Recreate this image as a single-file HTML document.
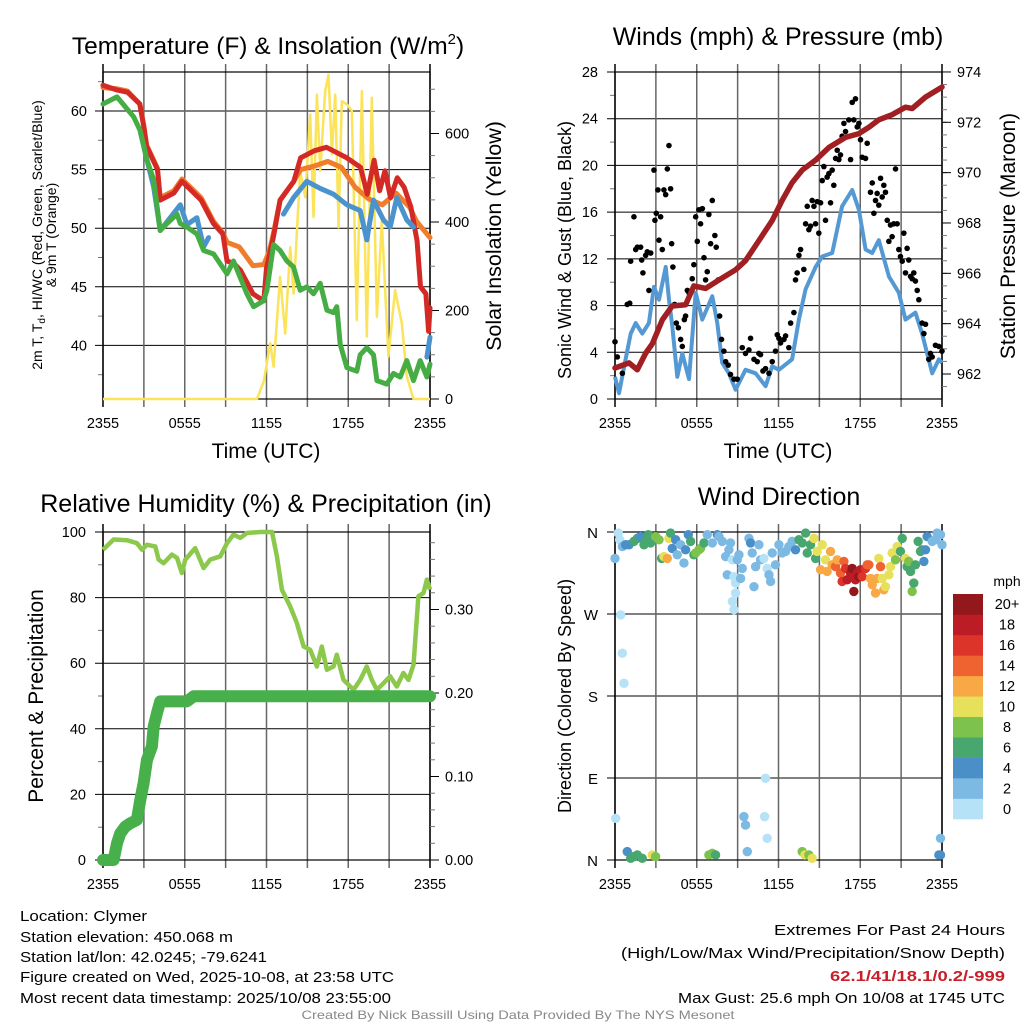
<!DOCTYPE html>
<html><head><meta charset="utf-8"><style>
html,body{margin:0;padding:0;background:#fff;}
svg{display:block;font-family:"Liberation Sans",Arial,sans-serif;}
</style></head><body>
<svg id="fig" width="1024" height="1024" viewBox="0 0 1024 1024" xmlns="http://www.w3.org/2000/svg">
<g id="p1"></g>
<g id="p2"></g>
<g id="p3"></g>
<g id="p4"></g>
<g id="txt">
<text x="268" y="54" font-size="24.5" text-anchor="middle">Temperature (F) &amp; Insolation (W/m<tspan font-size="15" dy="-10">2</tspan><tspan dy="10">)</tspan></text>
<text x="778" y="45" font-size="25" text-anchor="middle">Winds (mph) &amp; Pressure (mb)</text>
<text x="266" y="512" font-size="25" text-anchor="middle">Relative Humidity (%) &amp; Precipitation (in)</text>
<text x="779" y="505" font-size="25" text-anchor="middle">Wind Direction</text>
<text x="266" y="458" font-size="21" text-anchor="middle">Time (UTC)</text>
<text x="778" y="458" font-size="21" text-anchor="middle">Time (UTC)</text>
<text transform="translate(42,235) rotate(-90)" font-size="14" text-anchor="middle">2m T, T<tspan font-size="10" dy="3">d</tspan><tspan dy="-3">, HI/WC (Red, Green, Scarlet/Blue)</tspan></text>
<text transform="translate(56,235) rotate(-90)" font-size="14" text-anchor="middle">&amp; 9m T (Orange)</text>
<text transform="translate(501,236) rotate(-90)" font-size="21.5" text-anchor="middle">Solar Insolation (Yellow)</text>
<text transform="translate(571,250) rotate(-90)" font-size="18" text-anchor="middle">Sonic Wind &amp; Gust (Blue, Black)</text>
<text transform="translate(1015,236) rotate(-90)" font-size="21" text-anchor="middle">Station Pressure (Maroon)</text>
<text transform="translate(43,696) rotate(-90)" font-size="21" text-anchor="middle">Percent &amp; Precipitation</text>
<text transform="translate(571,696) rotate(-90)" font-size="18" text-anchor="middle">Direction (Colored By Speed)</text>
<text x="20" y="921" font-size="15" textLength="127" lengthAdjust="spacingAndGlyphs">Location: Clymer</text>
<text x="20" y="942" font-size="15" textLength="213" lengthAdjust="spacingAndGlyphs">Station elevation: 450.068 m</text>
<text x="20" y="962" font-size="15" textLength="247" lengthAdjust="spacingAndGlyphs">Station lat/lon: 42.0245; -79.6241</text>
<text x="20" y="982" font-size="15" textLength="374" lengthAdjust="spacingAndGlyphs">Figure created on Wed, 2025-10-08, at 23:58 UTC</text>
<text x="20" y="1003" font-size="15" textLength="371" lengthAdjust="spacingAndGlyphs">Most recent data timestamp: 2025/10/08 23:55:00</text>
<text x="1005" y="935" font-size="15" text-anchor="end" textLength="231" lengthAdjust="spacingAndGlyphs">Extremes For Past 24 Hours</text>
<text x="1005" y="958" font-size="15" text-anchor="end" textLength="384" lengthAdjust="spacingAndGlyphs">(High/Low/Max Wind/Precipitation/Snow Depth)</text>
<text x="1005" y="981" font-size="15" font-weight="bold" fill="#c8202a" text-anchor="end" textLength="175" lengthAdjust="spacingAndGlyphs">62.1/41/18.1/0.2/-999</text>
<text x="1005" y="1003" font-size="15" text-anchor="end" textLength="327" lengthAdjust="spacingAndGlyphs">Max Gust: 25.6 mph On 10/08 at 1745 UTC</text>
<text x="518" y="1019" font-size="12" fill="#888" text-anchor="middle" textLength="433" lengthAdjust="spacingAndGlyphs">Created By Nick Bassill Using Data Provided By The NYS Mesonet</text>
</g>
</svg>
<script>
// ---------- data ----------
const xTickLabels = ["2355","0555","1155","1755","2355"];
const tempTicks = [40,45,50,55,60];
const solarTicks = [0,200,400,600];
const windTicks = [0,4,8,12,16,20,24,28];
const presTicks = [962,964,966,968,970,972,974];
const rhTicks = [0,20,40,60,80,100];
const precipTicks = [0.00,0.10,0.20,0.30];
const dirTicks = ["N","E","S","W","N"];
const speedBins = ["0","2","4","6","8","10","12","14","16","18","20+"];
const speedColors = ["#b5e2f7","#7cb9e3","#4a8fc7","#48a66f","#7cc24c","#e6e05a","#f8a945","#ee6330","#dc3429","#bc1c25","#92181b"];

const tempRed = [[0,62.2],[1,61.8],[1.8,61.6],[2.7,60.6],[3,58.6],[3.2,57],[4,55],[4.2,52.4],[5.2,53],[5.8,54],[7.2,52.4],[8.1,50.4],[8.8,49.5],[9.1,47.2],[9.6,47],[10.1,46.4],[11,44.4],[11.8,43.8],[12,46.6],[12.5,49.2],[13,52.4],[14,54],[14.5,56],[15.5,56.6],[16.4,56.9],[16.9,56.6],[17.9,56],[18.9,55.2],[19.4,52.9],[19.9,55.8],[20.3,53.2],[20.7,54.9],[21.1,52.6],[21.6,54.3],[22.1,53.5],[22.6,51.8],[23.05,48.9],[23.3,45],[23.7,44.4],[23.9,41.2],[24,43.2]];
const tempOrange = [[0,62],[1,61.9],[1.8,61.7],[2.7,60.6],[3,58.7],[3.2,57.1],[4,55.1],[4.2,52.6],[5.2,53.2],[5.8,54.2],[7.2,52.6],[8.1,50.6],[8.8,49.6],[9.1,48.8],[10,48.4],[11,46.8],[11.8,46.9],[12.2,48],[12.5,49.5],[13,52.4],[14,54],[14.5,55],[15.5,55.3],[16.5,55.7],[17.5,55.2],[18.5,53.5],[19.5,52.5],[20.5,52],[21.5,53],[22.5,51.8],[23,50.6],[24,49.2]];
const tempBlue = [[2.74,58.2],[3.23,55.8],[3.72,53.5],[4.2,49.8],[5.67,52],[6.16,50.3],[6.89,50.9],[7.38,48.4],[7.75,49.2],null,[11.8,43],null,[13.25,51.2],[13.98,52.6],[14.96,54],[15.94,53.4],[16.92,52.9],[17.9,52],[18.88,51.5],[19.36,49],[19.85,52.4],[20.59,50.7],[21.08,50.1],[21.56,52.6],[22.3,50.7],[22.79,50.1],null,[23.77,39],[24,40.7]];
const tempGreen = [[0,60.6],[1.03,61.2],[2.25,59.5],[2.74,58.3],[3.23,55.8],[3.72,54.1],[4.2,49.8],[4.7,50.4],[5.43,51.2],[5.67,50.4],[6.16,50.1],[6.9,49.5],[7.38,48.1],[8.12,47.8],[9.1,46.1],[9.58,47.2],[10.07,45.8],[10.56,44.4],[11.05,43.3],[11.78,43.8],[12.03,44.7],[12.52,48.6],[13,48.1],[13.5,47.2],[13.98,46.7],[14.47,44.7],[14.96,45],[15.45,44.4],[15.94,45.3],[16.43,43],[16.92,42.8],[17.16,43.3],[17.41,40.1],[17.9,38.1],[18.63,37.8],[18.88,39.2],[19.36,39.8],[19.85,39.2],[20.1,37],[20.83,36.7],[21.32,37.6],[21.81,37.3],[22.3,38.7],[22.79,37],[23.28,38.7],[23.77,37.3],[24,38.4]];
const solar = [[0,0],[11.3,0],[11.8,40],[12.27,126],[12.52,73],[13,276],[13.37,148],[13.74,343],[13.99,238],[14.47,516],[14.84,456],[15.21,643],[15.45,411],[15.7,688],[15.94,516],[16.31,696],[16.55,733],[16.8,553],[17.04,688],[17.29,388],[17.53,673],[17.9,666],[18.26,651],[18.63,178],[19,696],[19.36,141],[19.73,681],[20.1,186],[20.46,403],[20.95,96],[21.44,246],[21.93,171],[22.3,51],[22.79,0],[24,0]];

const windSonic = [[0,1.9],[0.29,0.5],[0.78,3.4],[1.15,5.6],[1.52,6.5],[2,5.6],[2.49,6.5],[2.86,9.6],[3.23,8.5],[3.72,11.3],[3.96,8.5],[4.2,6.3],[4.57,1.9],[4.94,3.9],[5.43,1.7],[5.92,9.1],[6.41,6.8],[7.14,8.8],[7.51,6.5],[7.87,3.1],[8.36,2.2],[8.85,0.8],[9.58,2.5],[10.32,2.2],[11.05,1.1],[11.54,2.8],[12.03,2.5],[13,3.4],[13.5,6.8],[13.99,9.4],[14.72,11.3],[15.21,12.2],[15.94,12.5],[16.67,16.5],[17.41,17.9],[17.9,16.2],[18.39,12.8],[18.88,12.5],[19.36,13.6],[20.1,10.5],[20.83,9.1],[21.32,6.8],[22.05,7.4],[22.54,5.6],[23.28,2.2],[23.77,3.4],[24,3.1]];
const windGust = [[0,4.9],[0.17,3.6],[0.54,2.2],[0.9,8.1],[1.08,8.2],[1.15,11.8],[1.39,15.6],[1.52,12.8],[1.64,13],[1.88,13],[1.96,11.9],[2.05,10.8],[2.25,12.3],[2.37,12.6],[2.49,9.3],[2.62,12.5],[2.86,19.6],[2.93,15.3],[3.03,15.9],[3.15,17.9],[3.23,13.6],[3.35,15.6],[3.47,12.8],[3.59,17.9],[3.72,17.5],[3.84,19.7],[3.96,21.7],[4.08,18],[4.16,13.3],[4.25,11.3],[4.38,8.1],[4.5,6.5],[4.65,6.1],[4.82,5.1],[4.94,4.5],[5.09,6.8],[5.18,7.1],[5.31,9.3],[5.43,9.1],[5.67,10.3],[5.79,11.5],[5.92,15.6],[6.04,13.5],[6.16,16.2],[6.28,15],[6.41,16.3],[6.53,12.1],[6.65,10.2],[6.77,10.9],[6.89,15.8],[7.02,13.3],[7.14,17],[7.33,14],[7.43,13],[7.58,10.2],[7.68,7.1],[7.82,5.1],[7.99,4.1],[8.12,3.2],[8.31,2.9],[8.48,2.1],[8.73,1.7],[8.97,1.7],[9.34,4.4],[9.58,3.9],[9.83,4.2],[9.95,5.2],[10.2,3.4],[10.44,3.2],[10.56,3.9],[10.68,3.8],[10.86,2.4],[11.05,2.6],[11.3,2.2],[11.54,3.2],[11.78,4.1],[11.91,5.5],[12.03,5.2],[12.15,4.8],[12.4,5.1],[12.52,5.4],[12.76,4.4],[12.89,6.5],[13.13,7.4],[13.25,10.2],[13.37,10.8],[13.5,12.3],[13.62,12.8],[13.86,11.1],[13.99,15],[14.11,16.5],[14.23,14.5],[14.35,14.8],[14.47,17],[14.6,16.5],[14.72,15],[14.84,16.9],[14.96,14.2],[15.09,16.8],[15.21,18.7],[15.33,19.9],[15.45,15.3],[15.57,19],[15.7,19.3],[15.82,16.8],[15.94,19.6],[16.06,18.3],[16.19,20.6],[16.31,21.3],[16.43,20.5],[16.55,20.9],[16.67,22.5],[16.8,23.6],[16.92,22.9],[17.16,23.9],[17.29,20.5],[17.41,25.4],[17.53,23.9],[17.65,25.7],[17.78,23.3],[17.9,23.6],[18.02,22.2],[18.14,20.7],[18.39,20.6],[18.51,21.9],[18.75,17.7],[18.88,18.5],[19,15.9],[19.12,17],[19.24,17.6],[19.36,16.6],[19.49,18.9],[19.61,17.3],[19.73,18.3],[19.85,17.7],[19.98,15.3],[20.1,13.5],[20.22,14.9],[20.34,13.9],[20.46,15],[20.59,19.7],[20.71,15],[20.83,12.8],[20.95,12.2],[21.08,11.8],[21.2,14.2],[21.32,10.8],[21.44,12.9],[21.56,11.9],[21.69,10.5],[21.81,10.3],[21.93,10.8],[22.05,10.1],[22.18,9.3],[22.3,8.5],[22.54,6.5],[22.67,5.6],[22.79,6.4],[23.03,3.4],[23.15,3.9],[23.28,3.6],[23.52,4.6],[23.77,4.5],[24,4.1]];
const pressure = [[0,962.24],[1.03,962.44],[1.64,962.17],[2.25,962.83],[2.74,963.2],[3.47,964.15],[4.2,964.7],[5.18,964.75],[5.79,965.5],[6.65,965.4],[7.63,965.74],[8.85,966.14],[9.58,966.5],[10.56,967.3],[11.54,968.1],[12.27,968.9],[13,969.6],[13.74,970.1],[14.72,970.5],[15.7,971],[16.92,971.4],[17.9,971.55],[18.63,971.8],[19.36,972.1],[20.34,972.3],[21.32,972.6],[21.81,972.55],[22.79,973],[24,973.4]];

const rh = [[0,94.6],[0.78,97.7],[1.76,97.5],[2.49,96.6],[2.86,94.6],[3.23,96.1],[3.84,95.6],[4.08,91.6],[4.45,90.5],[5.06,93.1],[5.43,92.1],[5.79,87.5],[6.04,91.6],[6.77,95.1],[7.38,89],[7.87,91.6],[8.61,92.6],[9.1,96.6],[9.58,99.2],[10.07,98.2],[10.56,99.7],[11.54,100],[12.4,100],[12.76,92.6],[13.13,82.4],[13.74,77.3],[14.23,72.2],[14.72,65.1],[15.21,64.1],[15.7,59],[16.06,65.1],[16.43,58],[16.92,59],[17.16,62.6],[17.65,54.9],[18.39,51.9],[18.88,54.9],[19.36,59],[19.73,54.9],[20.1,51.9],[20.59,53.9],[21.08,56],[21.56,52.9],[22.05,57],[22.42,54.9],[22.79,59.5],[23.15,80.4],[23.52,81.4],[23.77,85.5],[24,82.4]];
const precip = [[0,0],[0.78,0],[1.03,0.02],[1.27,0.032],[1.64,0.04],[2,0.044],[2.49,0.048],[2.74,0.072],[2.98,0.092],[3.23,0.12],[3.59,0.136],[3.72,0.16],[3.96,0.176],[4.2,0.19],[6.16,0.19],[6.65,0.196],[24,0.196]];

const dirHours = [0,0.24,0.34,0.54,0.78,1.03,1.39,1.64,1.88,2.13,2.25,2.44,2.62,2.98,3.23,3.42,3.59,3.84,3.96,4.08,4.2,4.45,4.57,4.82,5.06,5.18,5.38,5.55,5.79,5.92,6.16,6.28,6.53,6.77,7.14,7.51,7.63,7.87,8.12,8.36,8.48,8.61,8.24,8.73,8.85,8.97,9.1,9.22,9.34,8.61,8.73,8.85,9.83,9.95,10.07,10.2,10.32,10.56,10.68,10.93,11.17,11.3,11.42,11.54,11.78,12.03,12.27,12.52,12.76,13,13.25,13.5,13.74,13.99,14.11,14.35,14.6,14.72,14.84,15.09,15.21,15.45,15.57,15.82,15.94,16.19,16.31,16.55,16.67,16.8,16.92,17.04,17.29,17.41,17.53,17.65,17.78,17.9,18.02,18.14,18.39,18.51,18.63,18.75,18.88,19.12,19.24,19.36,19.49,19.61,19.73,19.85,20.1,20.22,20.34,20.59,20.71,20.95,21.08,21.32,21.44,21.56,21.69,21.81,21.93,22.05,22.25,22.42,22.54,22.67,22.79,22.91,23.28,23.52,23.64,23.89,24,0.42,0.54,0.66,11.05,0.05,9.46,9.58,10.98,11.17,9.71,23.89,23.77,23.89,0.9,1.15,1.39,1.64,2,2.74,2.98,6.89,7.14,7.38,13.74,13.94,14.23,14.47];
const dirDeg = [331,358.8,351.5,344,346,346,349.7,353,355,346,349.7,357,348,355,351.5,331,333,331,353,358.8,342,351.5,335,346,326,340.5,357,349.7,335,337,340.5,342,348,357,348,357,355,349.7,333,340.5,348,329.5,313,311,304,329.5,335,309,320,283.8,274.6,293,353,348,337,300,322,346,329.5,331,320,313,305.7,337,324,346,337,338.7,344,349.7,340.5,351.5,348,358.8,337,346,353,331,338.7,318.6,346,329.5,316.7,338.7,324,322,329.5,315,305.7,327.7,320,307.6,315,320,294.8,307.6,315,311,318.6,311,320,324,324,309,302,293,309,331,322,309,296.6,300,313,322,337,329.5,344,338.7,353,331,322,327.7,316.7,294.8,304,324,349.7,338.7,340.5,327.7,340.5,355,349.7,351.5,358.8,357,346,269,227,194,89.7,45.8,47.6,38.4,47.6,23.8,9.2,23.8,5.5,5.5,9.2,1.8,3.7,5.5,1.8,5.5,3.7,5.5,7.3,5.5,9.2,5.5,5.5,1.8];
const dirSpeed = [3,1,1,2,4,4,6,6,4,6,6,7,6,8,9,7,10,12,10,7,4,4,2,3,3,4,4,6,7,8,8,9,7,3,2,5,3,2,2,2,2,1,2,1,1,2,2,2,2,1,1,1,2,4,2,2,2,2,2,1,1,2,2,2,2,2,2,2,2,2,4,6,6,6,6,7,10,7,10,12,10,10,12,13,12,14,12,14,16,14,16,18,18,20,20,18,18,20,18,16,16,14,14,13,12,12,12,11,15,11,12,11,11,10,10,9,10,7,6,10,6,8,6,8,6,6,6,6,6,4,4,4,2,2,2,2,3,1,1,1,1,1,3,3,1,1,3,3,4,4,5,6,6,6,6,10,9,8,8,7,8,10,8,10];

// ---------- helpers ----------
const NS = "http://www.w3.org/2000/svg";
function mk(parent, tag, attrs){
  const e = document.createElementNS(NS, tag);
  for (const k in attrs) e.setAttribute(k, attrs[k]);
  parent.appendChild(e);
  return e;
}
function pathFrom(pts, fx, fy){
  let d = "", pen = false;
  for (const p of pts){
    if (!p){ pen = false; continue; }
    d += (pen ? "L" : "M") + fx(p[0]).toFixed(1) + "," + fy(p[1]).toFixed(1);
    pen = true;
  }
  return d;
}
function frame(g, x0, x1, y0, y1, name){
  const fx = h => x0 + (x1 - x0) * h / 24;
  for (let i = 0; i <= 8; i++){
    const x = fx(i * 3);
    const l = mk(g, "line", {x1:x, x2:x, y1:y0-8, y2:y1+8, stroke: (i==0||i==8)?"#000":"#666", "stroke-width": 1.5});
    
    
  }
  xTickLabels.forEach((lab, i) => {
    const t = mk(g, "text", {x: fx(i*6), y: y1 + 29, "font-size": 14.5, "text-anchor": "middle"});
    t.textContent = lab;
    
    
  });
  const r = mk(g, "rect", {x: x0, y: y0, width: x1-x0, height: y1-y0, fill: "none", stroke: "#000", "stroke-width": 1.2});
  
  
  return fx;
}
function hGrid(g, x0, x1, ys, name){
  ys.forEach(y => {
    const l = mk(g, "line", {x1: x0-8, x2: x1, y1: y, y2: y, stroke: "#000", "stroke-width": 1});
    
    
  });
}
function leftLabels(g, x, vals, fy, fmt, name){
  vals.forEach(v => {
    const t = mk(g, "text", {x: x, y: fy(v) + 5, "font-size": 14.5, "text-anchor": "end"});
    t.textContent = fmt(v);
    
    
  });
}
function rightAxis(g, x, vals, fy, fmt, minorVals, name){
  minorVals.forEach(v => {
    const y = fy(v);
    const l = mk(g, "line", {x1: x, x2: x+5, y1: y, y2: y, stroke: "#777", "stroke-width": 1});
    
    
  });
  vals.forEach(v => {
    const y = fy(v);
    const l = mk(g, "line", {x1: x, x2: x+9, y1: y, y2: y, stroke: "#000", "stroke-width": 1});
    
    
    const t = mk(g, "text", {x: x + 15, y: y + 5, "font-size": 14.5});
    t.textContent = fmt(v);
    
    
  });
}
function leftMinor(g, x, vals, fy, name){
  vals.forEach(v => {
    const y = fy(v);
    const l = mk(g, "line", {x1: x-5, x2: x, y1: y, y2: y, stroke: "#777", "stroke-width": 1});
    
    
  });
}
function range(a, b, s){ const r = []; for (let v = a; v <= b + 1e-9; v += s) r.push(+v.toFixed(4)); return r; }

// ---------- Panel 1 ----------
(function(){
  const g = document.getElementById("p1");
  const X0 = 103, X1 = 430, Y0 = 72, Y1 = 399;
  const fyT = t => 111 + (60 - t) * 11.72;
  const fyS = s => 399 - s * 0.4425;
  hGrid(g, X0, X1, tempTicks.map(fyT), "temp");
  leftMinor(g, X0, range(37.5, 62.5, 5), fyT, "temp");
  const fx = frame(g, X0, X1, Y0, Y1, "temp");
  leftLabels(g, 87, tempTicks, fyT, v => v, "temp-y-tick-label");
  rightAxis(g, X1, solarTicks, fyS, v => v, [50,100,150,250,300,350,450,500,550,650,700], "solar");
  const series = [
    [tempOrange, "#f07d2b", 5, "temp-9m-orange-line"],
    [tempRed, "#d42a25", 5, "temp-2m-red-line"],
    [tempBlue, "#4b93cc", 5, "wind-chill-blue-line"],
    [tempGreen, "#46ad44", 5, "dewpoint-green-line"]
  ];
  const cl = mk(g, "clipPath", {id: "c1"}); mk(cl, "rect", {x: X0-3, y: Y0-10, width: X1-X0+6, height: Y1-Y0+10});
  const sy = mk(g, "path", {d: pathFrom(solar, fx, fyS), fill: "none", stroke: "#fbe35a", "stroke-width": 2.5, "stroke-linejoin": "round"});
  
  
  series.forEach(s => {
    const p = mk(g, "path", {d: pathFrom(s[0], fx, fyT), fill: "none", stroke: s[1], "stroke-width": s[2], "stroke-linejoin": "round", "stroke-linecap": "round", "clip-path": "url(#c1)"});
    
    
  });
})();

// ---------- Panel 2 ----------
(function(){
  const g = document.getElementById("p2");
  const X0 = 615, X1 = 942, Y0 = 72, Y1 = 399;
  const fyW = v => 399 - v * (327 / 28);
  const fyP = p => 374 - (p - 962) * 25.17;
  hGrid(g, X0, X1, windTicks.map(fyW), "wind");
  leftMinor(g, X0, range(2, 26, 4), fyW, "wind");
  const fx = frame(g, X0, X1, Y0, Y1, "wind");
  leftLabels(g, 598, windTicks, fyW, v => v, "wind-y-tick-label");
  rightAxis(g, X1, presTicks, fyP, v => v, range(961.5, 973.5, 0.5), "pressure");
  const sp = mk(g, "path", {d: pathFrom(windSonic, fx, fyW), fill: "none", stroke: "#5499d3", "stroke-width": 4, "stroke-linejoin": "round"});
  
  
  windGust.forEach(p => {
    const c = mk(g, "circle", {cx: fx(p[0]), cy: fyW(p[1]), r: 2.8, fill: "#000"});
    
    
  });
  const pp = mk(g, "path", {d: pathFrom(pressure, fx, fyP), fill: "none", stroke: "#a11f22", "stroke-width": 5.5, "stroke-linejoin": "round", "stroke-linecap": "round"});
  
  
})();

// ---------- Panel 3 ----------
(function(){
  const g = document.getElementById("p3");
  const X0 = 103, X1 = 430, Y0 = 532, Y1 = 860;
  const fyR = v => 860 - v * 3.28;
  const fyP = v => 860 - v * 835;
  hGrid(g, X0, X1, rhTicks.map(fyR), "rh");
  leftMinor(g, X0, range(10, 90, 20), fyR, "rh");
  const fx = frame(g, X0, X1, Y0, Y1, "rh");
  leftLabels(g, 86, rhTicks, fyR, v => v, "rh-y-tick-label");
  rightAxis(g, X1, precipTicks, fyP, v => v.toFixed(2), range(0.02, 0.38, 0.02), "precip");
  const rp = mk(g, "path", {d: pathFrom(rh, fx, fyR), fill: "none", stroke: "#8cc84b", "stroke-width": 4.5, "stroke-linejoin": "round"});
  
  
  const pr = mk(g, "path", {d: pathFrom(precip, fx, fyP), fill: "none", stroke: "#47b04b", "stroke-width": 12, "stroke-linejoin": "round", "stroke-linecap": "round"});
  
  
})();

// ---------- Panel 4 ----------
(function(){
  const g = document.getElementById("p4");
  const X0 = 615, X1 = 942, Y0 = 532, Y1 = 860;
  const fyD = d => 860 - d * (328 / 360);
  hGrid(g, X0, X1, [0,90,180,270,360].map(fyD), "dir");
  const fx = frame(g, X0, X1, Y0, Y1, "dir");
  dirTicks.forEach((lab, i) => {
    const t = mk(g, "text", {x: 598, y: fyD(i * 90) + 6, "font-size": 15, "text-anchor": "end"});
    t.textContent = lab;
    
    
  });
  dirHours.forEach((h, i) => {
    const s = dirSpeed[i];
    const bin = Math.min(10, Math.floor(s / 2));
    const c = mk(g, "circle", {cx: fx(h), cy: fyD(dirDeg[i]), r: 4.7, fill: speedColors[bin]});
    
    
  });
  const LX = 953, LW = 30, LT = 594, LB = 819;
  const bh = (LB - LT) / speedBins.length;
  const mph = mk(g, "text", {x: 1007, y: 586, "font-size": 14, "text-anchor": "middle"});
  mph.textContent = "mph";
  
  
  speedBins.forEach((lab, i) => {
    const y = LB - (i + 1) * bh;
    const r = mk(g, "rect", {x: LX, y: y, width: LW, height: bh + 0.3, fill: speedColors[i]});
    
    
    const t = mk(g, "text", {x: 1007, y: y + bh/2 + 5, "font-size": 14.5, "text-anchor": "middle"});
    t.textContent = lab;
    
    
  });
})();
</script>
</body></html>
